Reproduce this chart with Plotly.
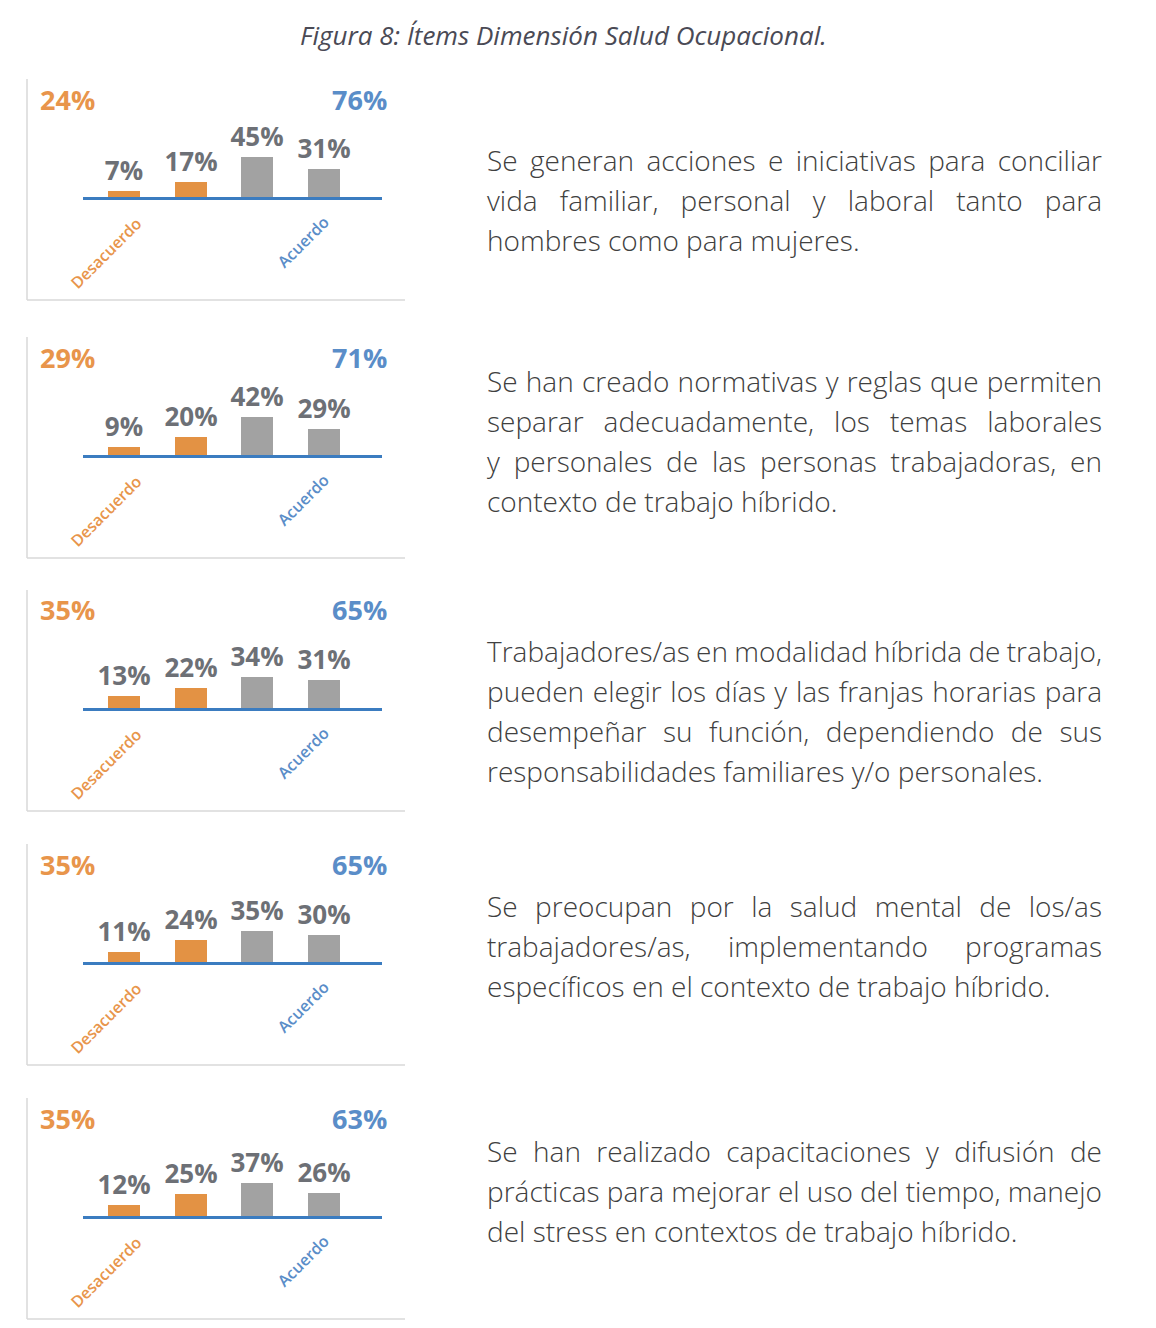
import json
import plotly.graph_objects as go

# ---------------- data ----------------
categories = ["Muy en desacuerdo", "En desacuerdo", "De acuerdo", "Muy de acuerdo"]
item1 = [7, 17, 45, 31]
item2 = [9, 20, 42, 29]
item3 = [13, 22, 34, 31]
item4 = [11, 24, 35, 30]
item5 = [12, 25, 37, 26]
items = [item1, item2, item3, item4, item5]
desacuerdo_tot = [24, 29, 35, 35, 35]
acuerdo_tot = [76, 71, 65, 65, 63]
group_labels = ["Desacuerdo", "Acuerdo"]
title_text = "Figura 8: Ítems Dimensión Salud Ocupacional."
item_texts = [
    ["Se generan acciones e iniciativas para conciliar",
     "vida familiar, personal y laboral tanto para",
     "hombres como para mujeres."],
    ["Se han creado normativas y reglas que permiten",
     "separar adecuadamente, los temas laborales",
     "y personales de las personas trabajadoras, en",
     "contexto de trabajo híbrido."],
    ["Trabajadores/as en modalidad híbrida de trabajo,",
     "pueden elegir los días y las franjas horarias para",
     "desempeñar su función, dependiendo de sus",
     "responsabilidades familiares y/o personales."],
    ["Se preocupan por la salud mental de los/as",
     "trabajadores/as, implementando programas",
     "específicos en el contexto de trabajo híbrido."],
    ["Se han realizado capacitaciones y difusión de",
     "prácticas para mejorar el uso del tiempo, manejo",
     "del stress en contextos de trabajo híbrido."],
]

# ---------------- layout constants ----------------
W, H = 1156, 1328
ORANGE = "#E39244"
ORANGE_T = "#E8954B"
BLUE_LINE = "#3B7CC0"
BLUE_T = "#5A8DC8"
GRAY_BAR = "#A2A2A2"
GRAY_T = "#6D7076"
TEXT = "#404040"
FONT = "Open Sans"

baselines = [197, 455, 708, 962, 1216]
text_first_y = [160, 381, 651, 906, 1151]
TEXT_X0, TEXT_X1 = 486, 1101
PX_PER_PCT = 0.9
DOM_H = 60


def py(px):
    return 1 - px / H


def pxx(px):
    return px / W


fig = go.Figure()
shapes = []
annotations = []

for i, vals in enumerate(items):
    n = "" if i == 0 else str(i + 1)
    yb = baselines[i]
    fig.add_trace(go.Bar(
        x=list(range(len(categories))), y=vals,
        width=0.48,
        marker=dict(color=[ORANGE, ORANGE, GRAY_BAR, GRAY_BAR], line=dict(width=0)),
        text=[f"{v}%" for v in vals],
        textposition="outside",
        constraintext="none",
        cliponaxis=False,
        textfont=dict(family=FONT, size=26, color=GRAY_T, weight="bold"),
        xaxis="x" + n, yaxis="y" + n,
        showlegend=False, hoverinfo="skip",
    ))
    fig.layout["xaxis" + n] = dict(
        domain=[pxx(83), pxx(382)], range=[-0.615, 3.87],
        showticklabels=False, showgrid=False, zeroline=False, ticks="",
        showline=True, linecolor=BLUE_LINE, linewidth=3,
        anchor="y" + n, fixedrange=True,
    )
    fig.layout["yaxis" + n] = dict(
        domain=[py(yb), py(yb - DOM_H)], range=[0, DOM_H / PX_PER_PCT],
        showticklabels=False, showgrid=False, zeroline=False, ticks="",
        showline=False, anchor="x" + n, fixedrange=True,
    )
    # panel frame (left + bottom light lines)
    top = yb - 118
    bot = yb + 103
    shapes.append(dict(type="line", xref="paper", yref="paper",
                       x0=pxx(27), x1=pxx(27), y0=py(top), y1=py(bot),
                       line=dict(color="#D9D9D9", width=1.5)))
    shapes.append(dict(type="line", xref="paper", yref="paper",
                       x0=pxx(27), x1=pxx(405), y0=py(bot), y1=py(bot),
                       line=dict(color="#D9D9D9", width=1.5)))
    # totals
    annotations.append(dict(x=pxx(38), y=py(yb - 98), xref="paper", yref="paper",
                            text=f"{desacuerdo_tot[i]}%", showarrow=False,
                            xanchor="left", yanchor="middle",
                            font=dict(family=FONT, size=27, color=ORANGE_T, weight="bold")))
    annotations.append(dict(x=pxx(389), y=py(yb - 98), xref="paper", yref="paper",
                            text=f"{acuerdo_tot[i]}%", showarrow=False,
                            xanchor="right", yanchor="middle",
                            font=dict(family=FONT, size=27, color=BLUE_T, weight="bold")))
    # rotated group labels
    annotations.append(dict(x=pxx(106), y=py(yb + 56), xref="paper", yref="paper",
                            text=group_labels[0], showarrow=False, textangle=-45,
                            xanchor="center", yanchor="middle",
                            font=dict(family=FONT, size=16, color=ORANGE_T, weight=600)))
    annotations.append(dict(x=pxx(303), y=py(yb + 45), xref="paper", yref="paper",
                            text=group_labels[1], showarrow=False, textangle=-45,
                            xanchor="center", yanchor="middle",
                            font=dict(family=FONT, size=16, color=BLUE_T, weight=600)))
    # description text
    for j, line in enumerate(item_texts[i]):
        annotations.append(dict(x=pxx(TEXT_X0 - 1), y=py(text_first_y[i] + 40 * j),
                                xref="paper", yref="paper", text=line,
                                showarrow=False, xanchor="left", yanchor="middle",
                                font=dict(family=FONT, size=28, color=TEXT, weight=300)))

annotations.append(dict(x=pxx(563), y=py(35), xref="paper", yref="paper",
                        text=f"<i>{title_text}</i>", showarrow=False,
                        xanchor="center", yanchor="middle",
                        font=dict(family=FONT, size=26, color="#4A4A55")))

fig.update_layout(
    width=W, height=H,
    margin=dict(l=0, r=0, t=0, b=0),
    paper_bgcolor="white", plot_bgcolor="rgba(0,0,0,0)",
    shapes=shapes, annotations=annotations,
    bargap=0,
)

# justify every paragraph line except the last one (word spacing only);
# the annotation text is centre-anchored, so shift it to keep its left edge.
justify_lines = [ln for para in item_texts for ln in para[:-1]]
js = """
var J = %s;
var target = %d;
document.body.style.margin = '0';
document.querySelectorAll('text.annotation-text').forEach(function(t){
  var s = t.textContent;
  if (J.indexOf(s) >= 0) {
    var n = (s.match(/ /g) || []).length;
    var len = t.getComputedTextLength();
    if (n > 0) {
      t.style.wordSpacing = ((target - len) / n) + 'px';
      var x0 = parseFloat(t.getAttribute('x')) || 0;
      t.setAttribute('x', x0 + (target - len) / 2);
    }
  }
});
""" % (json.dumps(justify_lines, ensure_ascii=False), TEXT_X1 - TEXT_X0)

fig.write_html("out.html", post_script=js, config={"displayModeBar": False})
